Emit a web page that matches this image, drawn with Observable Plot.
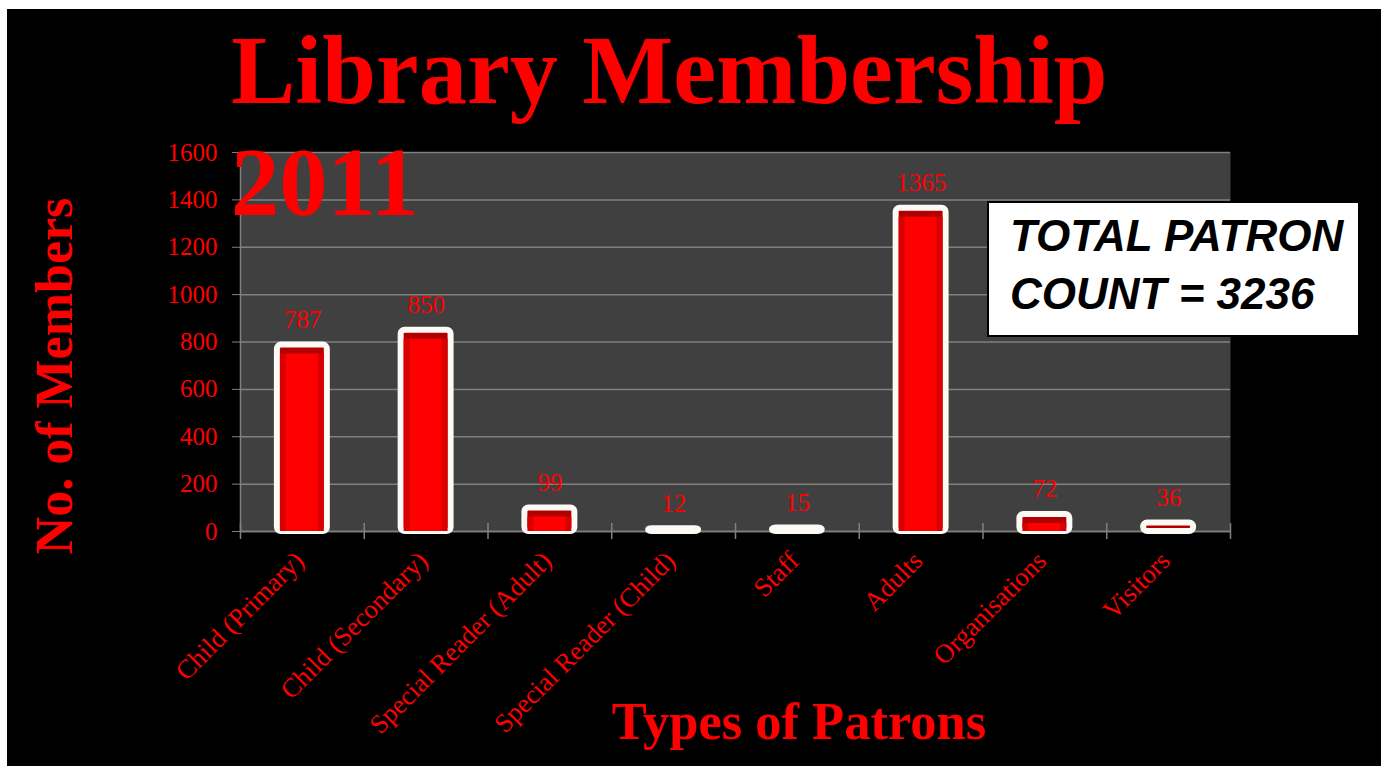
<!DOCTYPE html>
<html><head><meta charset="utf-8">
<script src="https://cdn.jsdelivr.net/npm/d3@7"></script>
<script src="https://cdn.jsdelivr.net/npm/@observablehq/plot@0.6"></script>
<style>
html,body{margin:0;padding:0;background:#fff;width:1381px;height:766px;overflow:hidden;}
#stage{position:absolute;left:7px;top:9px;width:1374px;height:757px;background:#000;overflow:hidden;}
#chart{position:absolute;left:0;top:0;}
#title{position:absolute;left:224px;top:6px;font:bold 96.5px/112px "Liberation Serif","Times New Roman",serif;color:#ff0000;white-space:nowrap;}
#xtitle{position:absolute;left:592px;top:686px;width:400px;text-align:center;font:bold 52.5px/52px "Liberation Serif",serif;color:#ff0000;white-space:nowrap;}
#ytitle{position:absolute;left:-152px;top:341px;width:400px;height:52px;text-align:center;font:bold 52px/52px "Liberation Serif",serif;color:#ff0000;white-space:nowrap;transform:rotate(-90deg);transform-origin:50% 50%;}
#total{position:absolute;left:980px;top:192px;width:373px;height:136px;box-sizing:border-box;border:2px solid #000;background:#fff;padding:4px 0 0 21px;font:italic bold 44px/57.5px "Liberation Sans",Arial,sans-serif;color:#000;white-space:nowrap;}
</style></head>
<body>
<div id="stage">
  <div id="chart"></div>
  <div id="title">Library Membership<br>2011</div>
  <div id="ytitle">No. of Members</div>
  <div id="xtitle">Types of Patrons</div>
  <div id="total"></div>
</div>
<script>
const categories = ["Child (Primary)", "Child (Secondary)", "Special Reader (Adult)", "Special Reader (Child)", "Staff", "Adults", "Organisations", "Visitors"];
const members = [787, 850, 99, 12, 15, 1365, 72, 36];
const yTicks = [0, 200, 400, 600, 800, 1000, 1200, 1400, 1600];

const data = categories.map((c, i) => ({category: c, index: i, value: members[i]}));
const total = d3.sum(members);
document.getElementById("total").innerHTML = "TOTAL PATRON<br>COUNT = " + total;

const red = "#ff0000";
const grey = "#808080";
const barInset = 36.9;

const chart = Plot.plot({
  width: 1374,
  height: 757,
  marginLeft: 233,
  marginRight: 151,
  marginTop: 143,
  marginBottom: 235,
  style: {background: "transparent", color: red, fontFamily: "'Liberation Serif', 'Times New Roman', serif", fontSize: "25px"},
  x: {type: "linear", domain: [0, categories.length]},
  y: {domain: [0, 1600]},
  marks: [
    Plot.frame({fill: "#404040", stroke: "none"}),
    Plot.gridY({ticks: yTicks, stroke: grey, strokeOpacity: 1, strokeWidth: 1.5}),
    Plot.ruleX([0], {stroke: grey, strokeWidth: 1.5}),
    Plot.ruleY([0], {stroke: grey, strokeWidth: 1.5}),
    Plot.axisY({ticks: yTicks, tickFormat: d3.format("d"), tickSize: 8, tickPadding: 15, stroke: grey, fill: red, fontSize: 25, label: null}),
    Plot.axisX({ticks: d3.range(categories.length + 1), tickSize: 16, dy: -8, tickFormat: () => "", stroke: grey, strokeWidth: 1.5, label: null}),
    Plot.rectY(data, {x1: d => d.index, x2: d => d.index + 1, y: "value", insetLeft: barInset, insetRight: barInset, fill: "#b00000", stroke: "#fdf9f5", strokeWidth: 6, rx: 4}),
    Plot.rectY(data, {x1: d => d.index, x2: d => d.index + 1, y: "value", insetLeft: barInset + 3, insetRight: barInset + 3, insetTop: 9, fill: "#d80000"}),
    Plot.rectY(data, {x1: d => d.index, x2: d => d.index + 1, y: "value", insetLeft: barInset + 9, insetRight: barInset + 9, insetTop: 9, fill: "#ff0000"}),
    Plot.text(data, {x: d => d.index + 0.5, y: "value", text: d => String(d.value), dy: -25, fill: red, fontSize: 25}),
    Plot.text(data, {x: d => d.index + 0.5, frameAnchor: "bottom", text: "category", rotate: -45, textAnchor: "end", dy: 31, dx: 3, fill: red, fontSize: 26.5})
  ]
});
document.getElementById("chart").appendChild(chart);
</script>
</body></html>
